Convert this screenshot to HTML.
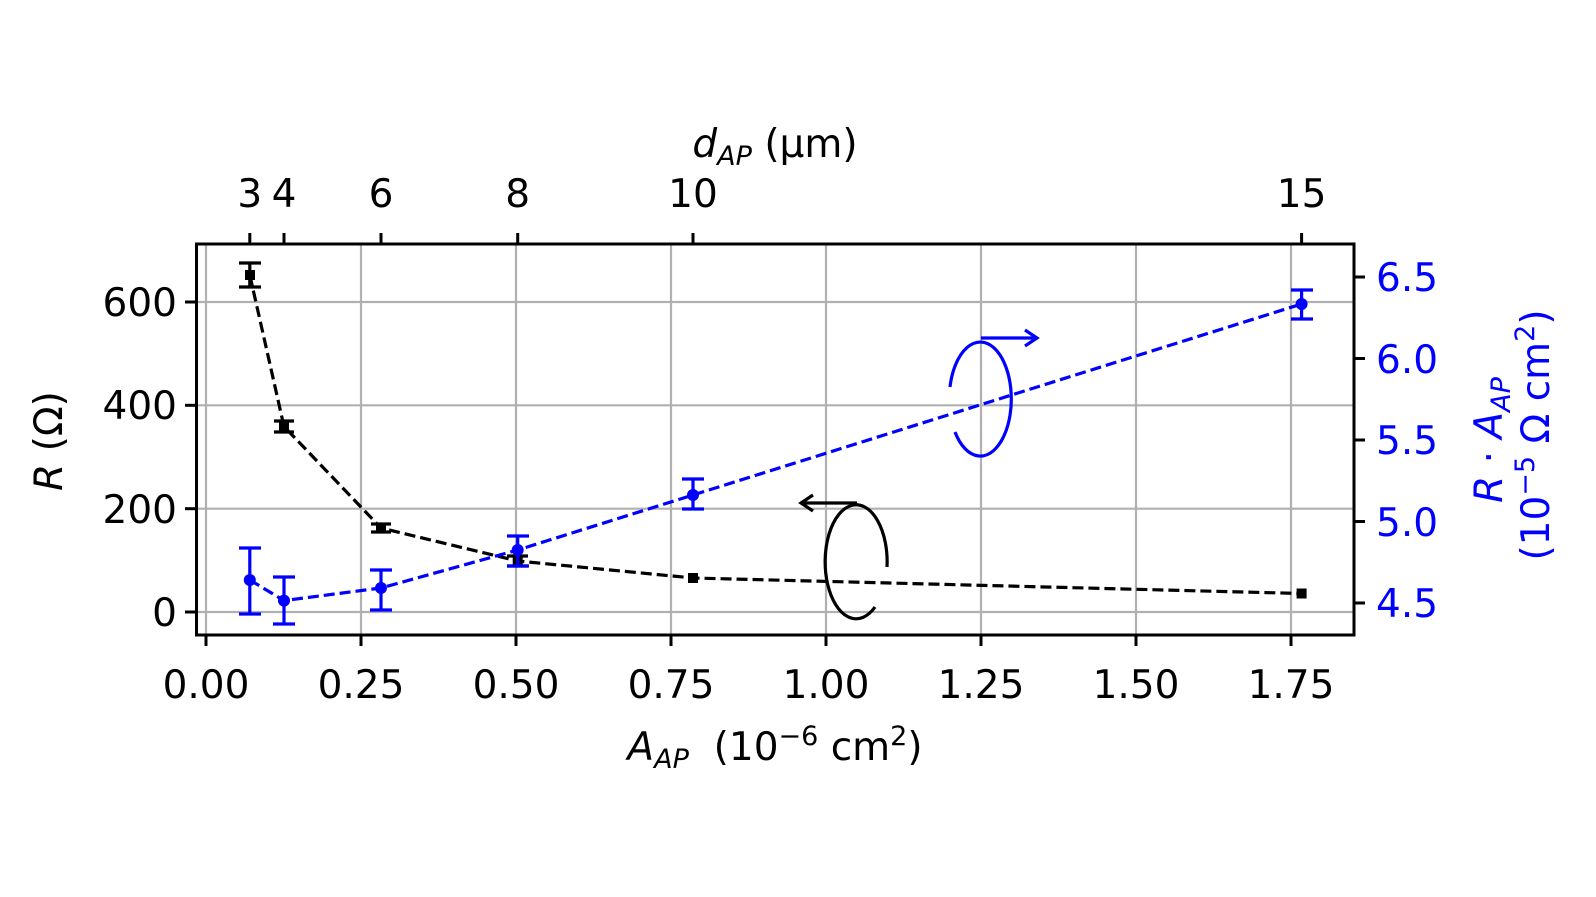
<!DOCTYPE html>
<html><head><meta charset="utf-8"><style>body{margin:0;background:#fff}svg{display:block}text{font-family:"DejaVu Sans","Liberation Sans",sans-serif;font-size:39px}</style></head>
<body>
<svg width="1596" height="897" viewBox="0 0 1596 897" xmlns="http://www.w3.org/2000/svg">
<rect width="1596" height="897" fill="#fff"/>
<g stroke="#b0b0b0" stroke-width="2.2">
<line x1="206" y1="244" x2="206" y2="635"/><line x1="361" y1="244" x2="361" y2="635"/><line x1="516" y1="244" x2="516" y2="635"/><line x1="671" y1="244" x2="671" y2="635"/><line x1="826" y1="244" x2="826" y2="635"/><line x1="981" y1="244" x2="981" y2="635"/><line x1="1136" y1="244" x2="1136" y2="635"/><line x1="1291" y1="244" x2="1291" y2="635"/>
<line x1="196" y1="612" x2="1354" y2="612"/><line x1="196" y1="508.7" x2="1354" y2="508.7"/><line x1="196" y1="405.3" x2="1354" y2="405.3"/><line x1="196" y1="302" x2="1354" y2="302"/>
</g>
<polyline points="249.8,275 284,426.5 381,528 517.7,561 693,578 1301.6,593.5" fill="none" stroke="#000" stroke-width="3.2" stroke-dasharray="11,5"/>
<g stroke="#000" stroke-width="3.2">
<line x1="249.8" y1="263" x2="249.8" y2="287"/><line x1="239" y1="263" x2="261" y2="263"/><line x1="239" y1="287" x2="261" y2="287"/>
<line x1="274" y1="421" x2="294" y2="421"/><line x1="274" y1="432" x2="294" y2="432"/><line x1="284" y1="421" x2="284" y2="432"/>
<line x1="371" y1="524" x2="391" y2="524"/><line x1="371" y1="532" x2="391" y2="532"/>
<line x1="507" y1="556" x2="528" y2="556"/><line x1="507" y1="566" x2="528" y2="566"/>
</g>
<g fill="#000"><rect x="245" y="270" width="10" height="10"/><rect x="279" y="421.5" width="10" height="10"/><rect x="376" y="523" width="10" height="10"/><rect x="512.7" y="556" width="10" height="10"/><rect x="688" y="573" width="10" height="10"/><rect x="1296.6" y="588.5" width="10" height="10"/></g>
<polyline points="249.8,580 284,600.6 381,588 517.7,550 693,495 1301.6,304" fill="none" stroke="#0000ff" stroke-width="3.2" stroke-dasharray="11,5"/>
<g stroke="#0000ff" stroke-width="3.2">
<line x1="249.8" y1="548" x2="249.8" y2="614"/><line x1="239" y1="548" x2="261" y2="548"/><line x1="239" y1="614" x2="261" y2="614"/>
<line x1="284" y1="577" x2="284" y2="624"/><line x1="273" y1="577" x2="295" y2="577"/><line x1="273" y1="624" x2="295" y2="624"/>
<line x1="381" y1="570" x2="381" y2="610"/><line x1="370" y1="570" x2="392" y2="570"/><line x1="370" y1="610" x2="392" y2="610"/>
<line x1="517.7" y1="536" x2="517.7" y2="566"/><line x1="507" y1="536" x2="529" y2="536"/><line x1="507" y1="566" x2="529" y2="566"/>
<line x1="693" y1="479" x2="693" y2="509"/><line x1="682" y1="479" x2="704" y2="479"/><line x1="682" y1="509" x2="704" y2="509"/>
<line x1="1301.6" y1="290" x2="1301.6" y2="319"/><line x1="1291" y1="290" x2="1313" y2="290"/><line x1="1291" y1="319" x2="1313" y2="319"/>
</g>
<g fill="#0000ff"><circle cx="249.8" cy="580" r="6"/><circle cx="284" cy="600.6" r="6"/><circle cx="381" cy="588" r="6"/><circle cx="517.7" cy="550" r="6"/><circle cx="693" cy="495" r="6"/><circle cx="1301.6" cy="304" r="6"/></g>
<path d="M875,607 A31,57 0 1 1 887,567" fill="none" stroke="#000" stroke-width="3.2"/>
<path d="M857,503 L801,503 M813,495 L801,503 L813,511" fill="none" stroke="#000" stroke-width="3.2"/>
<path d="M950,387 A31,57 0 1 1 955,432" fill="none" stroke="#0000ff" stroke-width="3.2"/>
<path d="M981,338 L1037,338 M1025,330 L1037,338 L1025,346" fill="none" stroke="#0000ff" stroke-width="3.2"/>
<rect x="196.5" y="244" width="1157.5" height="391" fill="none" stroke="#000" stroke-width="3"/>
<g stroke="#000" stroke-width="3">
<line x1="206" y1="635" x2="206" y2="646"/><line x1="361" y1="635" x2="361" y2="646"/><line x1="516" y1="635" x2="516" y2="646"/><line x1="671" y1="635" x2="671" y2="646"/><line x1="826" y1="635" x2="826" y2="646"/><line x1="981" y1="635" x2="981" y2="646"/><line x1="1136" y1="635" x2="1136" y2="646"/><line x1="1291" y1="635" x2="1291" y2="646"/>
<line x1="185" y1="612" x2="196" y2="612"/><line x1="185" y1="508.7" x2="196" y2="508.7"/><line x1="185" y1="405.3" x2="196" y2="405.3"/><line x1="185" y1="302" x2="196" y2="302"/>
<line x1="1354" y1="277" x2="1365" y2="277"/><line x1="1354" y1="358.5" x2="1365" y2="358.5"/><line x1="1354" y1="440" x2="1365" y2="440"/><line x1="1354" y1="521.5" x2="1365" y2="521.5"/><line x1="1354" y1="603" x2="1365" y2="603"/>
<line x1="249.8" y1="244" x2="249.8" y2="233"/><line x1="284" y1="244" x2="284" y2="233"/><line x1="381" y1="244" x2="381" y2="233"/><line x1="517.7" y1="244" x2="517.7" y2="233"/><line x1="693" y1="244" x2="693" y2="233"/><line x1="1301.6" y1="244" x2="1301.6" y2="233"/>
</g>
<g text-anchor="middle" fill="#000">
<text x="206" y="698">0.00</text><text x="361" y="698">0.25</text><text x="516" y="698">0.50</text><text x="671" y="698">0.75</text><text x="826" y="698">1.00</text><text x="981" y="698">1.25</text><text x="1136" y="698">1.50</text><text x="1291" y="698">1.75</text>
<text x="249.8" y="207">3</text><text x="284" y="207">4</text><text x="381" y="207">6</text><text x="517.7" y="207">8</text><text x="693" y="207">10</text><text x="1301.6" y="207">15</text>
<text x="775" y="760"><tspan font-style="italic">A</tspan><tspan font-style="italic" font-size="27" dy="8">AP</tspan><tspan dy="-8">&#160;&#160;(10</tspan><tspan font-size="27" dy="-15">−6</tspan><tspan dy="15"> cm</tspan><tspan font-size="27" dy="-15">2</tspan><tspan dy="15">)</tspan></text>
<text x="775" y="157"><tspan font-style="italic">d</tspan><tspan font-style="italic" font-size="27" dy="8">AP</tspan><tspan dy="-8"> (µm)</tspan></text>
</g>
<g text-anchor="end" fill="#000">
<text x="177" y="626">0</text><text x="177" y="523">200</text><text x="177" y="419">400</text><text x="177" y="316">600</text>
</g>
<g fill="#0000ff">
<text x="1376" y="291">6.5</text><text x="1376" y="373">6.0</text><text x="1376" y="454">5.5</text><text x="1376" y="536">5.0</text><text x="1376" y="617">4.5</text>
</g>
<text transform="translate(62,441) rotate(-90)" text-anchor="middle"><tspan font-style="italic">R</tspan> (Ω)</text>
<g fill="#0000ff" text-anchor="middle">
<text transform="translate(1502,440) rotate(-90)"><tspan font-style="italic">R</tspan> · <tspan font-style="italic">A</tspan><tspan font-style="italic" font-size="27" dy="8">AP</tspan></text>
<text transform="translate(1549,435) rotate(-90)">(10<tspan font-size="27" dy="-15">−5</tspan><tspan dy="15"> Ω cm</tspan><tspan font-size="27" dy="-15">2</tspan><tspan dy="15">)</tspan></text>
</g>
</svg>
</body></html>
